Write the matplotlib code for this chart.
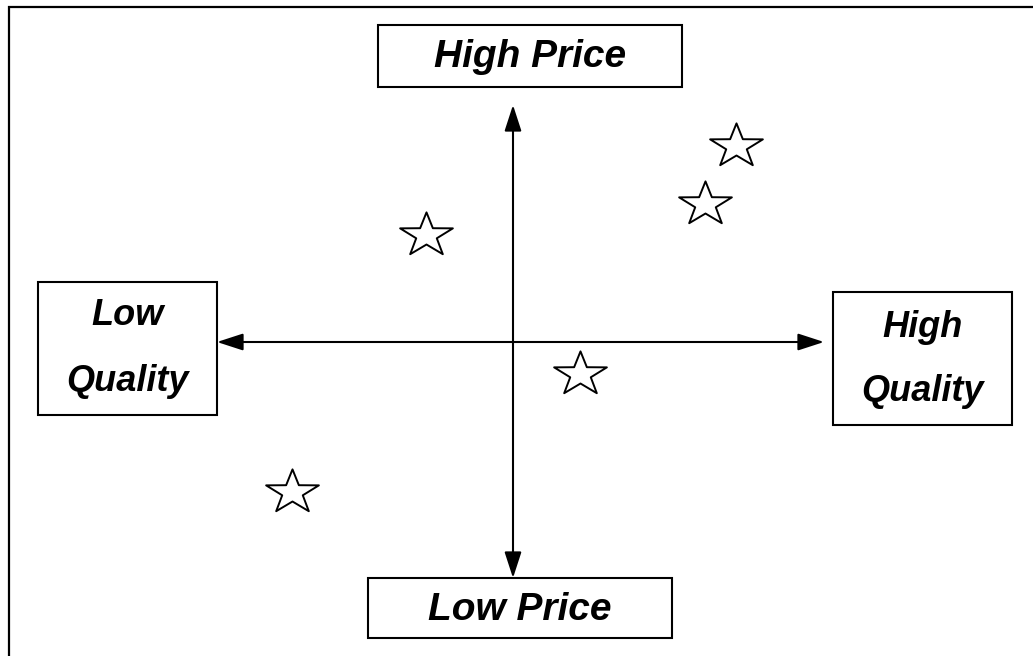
import numpy as np
import matplotlib
matplotlib.use("Agg")
import matplotlib.pyplot as plt
from matplotlib.patches import Rectangle, FancyArrowPatch
from matplotlib.path import Path
from matplotlib.markers import MarkerStyle


# perceptual map: quality (x) vs price (y), origin where the axes cross
quality = [-87, 223, 192, 67, -221]
price = [107, 196, 138, -32, -150]

axis_labels = ["High Price", "Low Price", "Low\nQuality", "High\nQuality"]


#############################################################
def star_marker(inner=0.39, stretch=1.2):
    # outline star, a bit wider than tall
    ang = np.deg2rad(90 + 36 * np.arange(10))
    rad = np.where(np.arange(10) % 2 == 0, 1.0, inner)
    verts = np.column_stack([stretch * rad * np.cos(ang), rad * np.sin(ang)])
    verts = np.vstack([verts, verts[:1]])
    codes = [Path.MOVETO] + [Path.LINETO] * 9 + [Path.CLOSEPOLY]
    return MarkerStyle(Path(verts, codes), joinstyle='miter')


def label_box(ax, x0, x1, y0, y1):
    ax.add_patch(Rectangle((x0, y0), x1 - x0, y1 - y0, facecolor='white',
                           edgecolor='black', lw=1.5, zorder=3))


##############################################
fig = plt.figure(figsize=(10.33, 6.56), dpi=100)
ax = fig.add_axes([0, 0, 1, 1])
ax.set_xlim(-513, 520)
ax.set_ylim(-314, 342)
ax.axis('off')

# outer frame (runs off the right and bottom edges)
ax.plot([-504, -504, 600], [-400, 335, 335], color='black', lw=1.6,
        solid_joinstyle='miter', zorder=1)

# the two axes as double-headed arrows
arrow_style = "<|-|>,head_length=0.8,head_width=0.26"
ax.add_patch(FancyArrowPatch((0, -236), (0, 237), arrowstyle=arrow_style,
                             mutation_scale=20, lw=1.5, color='black',
                             shrinkA=0, shrinkB=0, zorder=2))
ax.add_patch(FancyArrowPatch((-296, 0), (311, 0), arrowstyle=arrow_style,
                             mutation_scale=20, lw=1.5, color='black',
                             shrinkA=0, shrinkB=0, zorder=2))

font = dict(family='Liberation Sans', weight='bold', style='italic',
            color='black', ha='center', va='baseline', zorder=4)

# High Price / Low Price
label_box(ax, -135, 169, 255, 317)
ax.text(17, 275, axis_labels[0], fontsize=28, **font)
label_box(ax, -145, 159, -296, -236)
ax.text(7, -278, axis_labels[1], fontsize=28, **font)

# Low Quality / High Quality
label_box(ax, -475, -296, -73, 60)
for line, y in zip(axis_labels[2].split("\n"), [17, -49]):
    ax.text(-385.5, y, line, fontsize=26, **font)
label_box(ax, 320, 499, -83, 50)
for line, y in zip(axis_labels[3].split("\n"), [5, -59]):
    ax.text(409.5, y, line, fontsize=26, **font)

# products
ax.plot(quality, price, linestyle='none', marker=star_marker(), markersize=38,
        markerfacecolor='white', markeredgecolor='black', markeredgewidth=1.4,
        zorder=5)

fig.savefig("out.png", dpi=100)
